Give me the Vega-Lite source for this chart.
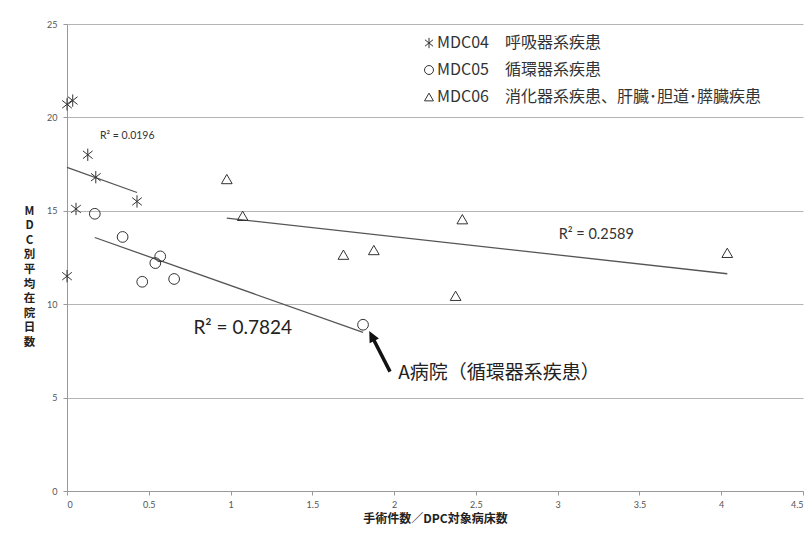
{
  "$schema": "https://vega.github.io/schema/vega-lite/v6.json",
  "width": 736,
  "height": 467,
  "autosize": {"type": "none"},
  "padding": {"left": 67, "top": 24, "right": 8, "bottom": 47},
  "background": "white",
  "config": {
    "view": {"stroke": null},
    "font": "Lato",
    "axis": {
      "labelFont": "Lato",
      "labelFontSize": 9,
      "labelColor": "#555",
      "domainColor": "#999",
      "tickColor": "#999",
      "gridColor": "#b5b5b5",
      "tickSize": 4
    }
  },
  "datasets": {
    "points": [
      {"series": "MDC04　呼吸器系疾患", "x": 0.0, "y": 20.7},
      {"series": "MDC04　呼吸器系疾患", "x": 0.035, "y": 20.9},
      {"series": "MDC04　呼吸器系疾患", "x": 0.127, "y": 18.0},
      {"series": "MDC04　呼吸器系疾患", "x": 0.176, "y": 16.8},
      {"series": "MDC04　呼吸器系疾患", "x": 0.055, "y": 15.1},
      {"series": "MDC04　呼吸器系疾患", "x": 0.428, "y": 15.5},
      {"series": "MDC04　呼吸器系疾患", "x": 0.0, "y": 11.5},
      {"series": "MDC05　循環器系疾患", "x": 0.17, "y": 14.84},
      {"series": "MDC05　循環器系疾患", "x": 0.34, "y": 13.6},
      {"series": "MDC05　循環器系疾患", "x": 0.57, "y": 12.56},
      {"series": "MDC05　循環器系疾患", "x": 0.54, "y": 12.2},
      {"series": "MDC05　循環器系疾患", "x": 0.46, "y": 11.2},
      {"series": "MDC05　循環器系疾患", "x": 0.655, "y": 11.35},
      {"series": "MDC05　循環器系疾患", "x": 1.81, "y": 8.9},
      {"series": "MDC06　消化器系疾患、肝臓･胆道･膵臓疾患", "x": 0.977, "y": 16.7},
      {"series": "MDC06　消化器系疾患、肝臓･胆道･膵臓疾患", "x": 1.074, "y": 14.73},
      {"series": "MDC06　消化器系疾患、肝臓･胆道･膵臓疾患", "x": 1.69, "y": 12.65},
      {"series": "MDC06　消化器系疾患、肝臓･胆道･膵臓疾患", "x": 1.876, "y": 12.9},
      {"series": "MDC06　消化器系疾患、肝臓･胆道･膵臓疾患", "x": 2.417, "y": 14.55},
      {"series": "MDC06　消化器系疾患、肝臓･胆道･膵臓疾患", "x": 4.037, "y": 12.75},
      {"series": "MDC06　消化器系疾患、肝臓･胆道･膵臓疾患", "x": 2.376, "y": 10.45}
    ],
    "trends": [
      {"series": "MDC04", "x": 0.0, "y": 17.32},
      {"series": "MDC04", "x": 0.428, "y": 15.98},
      {"series": "MDC05", "x": 0.17, "y": 13.57},
      {"series": "MDC05", "x": 1.81, "y": 8.49},
      {"series": "MDC06", "x": 0.977, "y": 14.61},
      {"series": "MDC06", "x": 4.037, "y": 11.63}
    ],
    "arrow": [{"x": 1.975, "y": 6.39, "x2": 1.872, "y2": 8.15}],
    "arrowhead": [{"x": 1.866, "y": 8.25}],
    "r2small": [{"x": 0.202, "y": 19.01, "label": "R² = 0.0196"}],
    "r2large": [{"x": 0.773, "y": 8.74, "label": "R² = 0.7824"}],
    "r2mid": [{"x": 3.006, "y": 13.72, "label": "R² = 0.2589"}],
    "note": [{"x": 2.025, "y": 6.34, "label": "A病院（循環器系疾患）"}]
  },
  "encoding": {
    "x": {
      "field": "x",
      "type": "quantitative",
      "scale": {"domain": [0, 4.5], "nice": false, "zero": false},
      "axis": {
        "values": [0, 0.5, 1, 1.5, 2, 2.5, 3, 3.5, 4, 4.5],
        "format": "~g",
        "grid": false,
        "labelPadding": 5,
        "title": "手術件数／DPC対象病床数",
        "titleFont": "Noto Sans CJK JP",
        "titleFontSize": 12,
        "titleFontWeight": "bold",
        "titleColor": "#222",
        "titleBaseline": "top",
        "titleY": 22
      }
    },
    "y": {
      "field": "y",
      "type": "quantitative",
      "scale": {"domain": [0, 25], "nice": false, "zero": false},
      "axis": {
        "values": [0, 5, 10, 15, 20, 25],
        "format": "~g",
        "grid": true,
        "labelPadding": 6,
        "title": ["M", "D", "C", "別", "平", "均", "在", "院", "日", "数"],
        "titleFont": "Noto Sans CJK JP",
        "titleFontSize": 11.5,
        "titleFontWeight": "bold",
        "titleColor": "#222",
        "titleAngle": 0,
        "titleAlign": "center",
        "titleBaseline": "top",
        "titleLineHeight": 14.6,
        "titleX": -38,
        "titleY": 181
      }
    }
  },
  "layer": [
    {
      "data": {"name": "trends"},
      "mark": {"type": "line", "color": "#555", "strokeWidth": 1.3},
      "encoding": {"detail": {"field": "series"}}
    },
    {
      "data": {"name": "points"},
      "mark": {"type": "point", "filled": false, "stroke": "#333", "strokeWidth": 1, "size": 115, "opacity": 1},
      "encoding": {
        "shape": {
          "field": "series",
          "type": "nominal",
          "scale": {"range": ["M0,-1.15L0,1.15M-0.9,-0.72L0.9,0.72M-0.9,0.72L0.9,-0.72", "circle", "triangle-up"]},
          "legend": {
            "orient": "none",
            "legendX": 354,
            "legendY": 11,
            "title": null,
            "padding": 0,
            "symbolSize": 80,
            "symbolStrokeColor": "#333",
            "symbolFillColor": "transparent",
            "symbolStrokeWidth": 1,
            "labelFont": "Noto Sans CJK JP",
            "labelFontSize": 16,
            "labelColor": "#333",
            "labelOffset": 0,
            "labelLimit": 500,
            "rowPadding": 11
          }
        }
      }
    },
    {
      "data": {"name": "arrow"},
      "mark": {"type": "rule", "color": "#111", "strokeWidth": 3.5},
      "encoding": {"x2": {"field": "x2"}, "y2": {"field": "y2"}}
    },
    {
      "data": {"name": "arrowhead"},
      "mark": {"type": "point", "shape": "M0,-1L0.8,0.7L-0.8,0.7Z", "filled": true, "color": "#111", "size": 170, "angle": -27, "opacity": 1}
    },
    {
      "data": {"name": "r2small"},
      "mark": {"type": "text", "align": "left", "baseline": "middle", "font": "Lato", "fontSize": 10.5, "color": "#333"},
      "encoding": {"text": {"field": "label"}}
    },
    {
      "data": {"name": "r2large"},
      "mark": {"type": "text", "align": "left", "baseline": "middle", "font": "Lato", "fontSize": 19, "color": "#222"},
      "encoding": {"text": {"field": "label"}}
    },
    {
      "data": {"name": "r2mid"},
      "mark": {"type": "text", "align": "left", "baseline": "middle", "font": "Lato", "fontSize": 14.5, "color": "#333"},
      "encoding": {"text": {"field": "label"}}
    },
    {
      "data": {"name": "note"},
      "mark": {"type": "text", "align": "left", "baseline": "middle", "font": "Noto Sans CJK JP", "fontSize": 19, "color": "#222"},
      "encoding": {"text": {"field": "label"}}
    }
  ]
}
